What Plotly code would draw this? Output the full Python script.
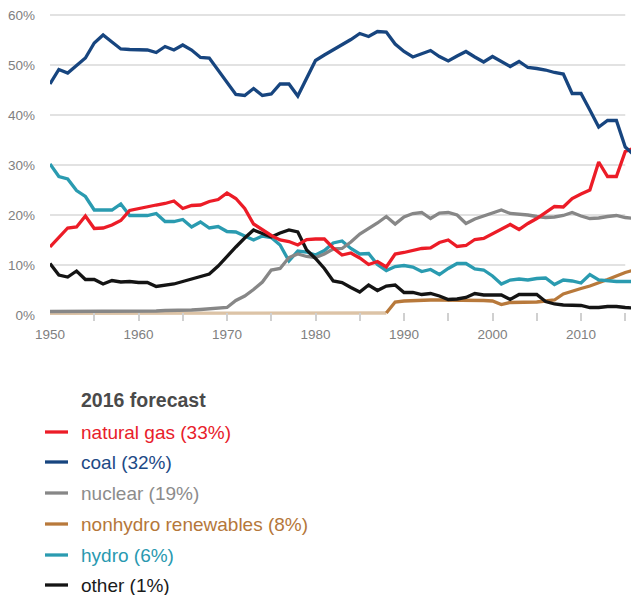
import plotly.graph_objects as go

# ---------------- data ----------------
years = list(range(1950, 2017))

natural_gas = [13.6, 15.6, 17.4, 17.6, 19.8, 17.3, 17.4, 18.0, 18.9, 20.9,
               21.3, 21.6, 22.0, 22.3, 22.8, 21.3, 21.9, 22.0, 22.7, 23.1,
               24.4, 23.3, 21.3, 18.2, 17.0, 15.9, 15.0, 14.7, 14.0, 15.1,
               15.2, 15.2, 13.4, 12.0, 12.4, 11.4, 10.1, 10.7, 9.6, 12.2,
               12.5, 12.9, 13.3, 13.4, 14.5, 15.0, 13.7, 13.9, 15.1, 15.3,
               16.2, 17.2, 18.1, 17.1, 18.3, 19.3, 20.6, 21.7, 21.6, 23.3,
               24.2, 25.0, 30.6, 27.7, 27.7, 32.7, 33.4]

coal = [46.2, 49.1, 48.4, 49.8, 51.4, 54.4, 56.0, 54.6, 53.2, 53.1,
        53.1, 53.0, 52.5, 53.7, 53.0, 54.0, 53.0, 51.5, 51.4, 49.0,
        46.5, 44.1, 43.9, 45.3, 43.9, 44.2, 46.2, 46.2, 43.8, 47.3,
        50.9, 52.0, 53.0, 54.0, 55.1, 56.3, 55.7, 56.7, 56.6, 54.2,
        52.7, 51.6, 52.2, 52.9, 51.7, 50.8, 51.8, 52.7, 51.6, 50.6,
        51.7, 50.7, 49.7, 50.7, 49.5, 49.3, 49.0, 48.5, 48.2, 44.3,
        44.3, 41.0, 37.6, 38.9, 38.9, 33.6, 32.0]

nuclear = [0.7, 0.7, 0.7, 0.7, 0.7, 0.7, 0.7, 0.7, 0.7, 0.7,
           0.7, 0.8, 0.8, 0.9, 0.9, 1.0, 1.0, 1.1, 1.2, 1.3,
           1.5, 2.9, 3.8, 5.1, 6.6, 9.0, 9.3, 11.5, 12.2, 11.7,
           11.5, 12.2, 13.2, 13.3, 14.6, 16.2, 17.3, 18.4, 19.7, 18.2,
           19.6, 20.3, 20.5, 19.3, 20.4, 20.5, 20.0, 18.3, 19.2, 19.8,
           20.3, 21.0, 20.3, 20.2, 20.0, 19.7, 19.5, 19.6, 19.9, 20.5,
           19.8, 19.3, 19.4, 19.7, 19.9, 19.5, 19.3]

renewables = [0.35] * 38 + [0.4, 2.6,
              2.8, 2.9, 2.9, 3.0, 3.0, 3.0, 3.0, 3.0, 2.9, 2.9,
              2.8, 2.1, 2.5, 2.5, 2.5, 2.6, 2.8, 3.0, 4.2, 4.8,
              5.3, 5.8, 6.4, 7.1, 7.8, 8.5, 9.0]

hydro = [30.2, 27.7, 27.2, 24.9, 23.7, 21.0, 21.0, 21.0, 22.2, 19.9,
         19.9, 19.9, 20.3, 18.7, 18.7, 19.1, 17.6, 18.6, 17.4, 17.7,
         16.7, 16.6, 15.8, 15.0, 15.8, 15.5, 14.0, 10.8, 12.8, 12.6,
         12.0, 12.9, 14.4, 14.8, 13.3, 12.2, 12.3, 10.1, 8.9, 9.7,
         9.9, 9.6, 8.7, 9.1, 8.1, 9.3, 10.3, 10.3, 9.2, 9.0,
         7.8, 6.2, 7.0, 7.2, 7.0, 7.3, 7.4, 6.1, 7.0, 6.8,
         6.4, 8.1, 7.0, 6.8, 6.7, 6.7, 6.7]

other = [10.3, 8.0, 7.6, 8.8, 7.1, 7.1, 6.2, 6.9, 6.6, 6.7,
         6.5, 6.5, 5.7, 5.9, 6.2, 6.7, 7.2, 7.7, 8.2, 9.8,
         11.8, 13.6, 15.4, 17.0, 16.3, 15.6, 16.4, 17.0, 16.6, 13.0,
         11.3, 9.3, 6.8, 6.5, 5.5, 4.6, 6.0, 4.9, 5.8, 6.0,
         4.5, 4.5, 4.1, 4.3, 3.8, 3.1, 3.2, 3.5, 4.3, 4.0,
         4.0, 4.0, 3.1, 4.1, 4.1, 4.1, 2.7, 2.2, 2.0, 2.0,
         1.9, 1.5, 1.5, 1.7, 1.7, 1.5, 1.4]

y_ticks = [0, 10, 20, 30, 40, 50, 60]
y_tick_labels = ["0%", "10%", "20%", "30%", "40%", "50%", "60%"]
x_ticks = [1950, 1960, 1970, 1980, 1990, 2000, 2010]
x_tick_labels = ["1950", "1960", "1970", "1980", "1990", "2000", "2010"]

legend_title = "2016 forecast"
legend_labels = ["natural gas (33%)", "coal (32%)", "nuclear (19%)",
                 "nonhydro renewables (8%)", "hydro (6%)", "other (1%)"]

# ---------------- styles ----------------
C_GAS = "#ec1c27"
C_COAL = "#17457f"
C_NUC = "#878787"
C_REN = "#b8793b"
C_REN_PALE = "#dcc3a6"
C_HYD = "#2a9bb0"
C_OTH = "#141414"
LW = 3.3

W, H = 631, 595
M_L, M_R, M_T, M_B = 50, 0, 5, 274
PLOT_W = W - M_L - M_R
PLOT_H = H - M_T - M_B

fig = go.Figure()

split = years.index(1988)

def add_line(x, y, color):
    fig.add_trace(go.Scatter(x=x, y=y, mode="lines",
                             line=dict(color=color, width=LW),
                             hoverinfo="skip", showlegend=False))

add_line(years[:split + 1], renewables[:split + 1], C_REN_PALE)
add_line(years[split:], renewables[split:], C_REN)
add_line(years, hydro, C_HYD)
add_line(years, nuclear, C_NUC)
add_line(years, other, C_OTH)
add_line(years, natural_gas, C_GAS)
add_line(years, coal, C_COAL)

# horizontal gridlines (stop at 2015 as in the reference)
for v in y_ticks[1:]:
    fig.add_shape(type="line", xref="x", yref="y", x0=1950, x1=2015,
                  y0=v, y1=v, line=dict(color="#d8d8d8", width=1.3),
                  layer="below")

# legend built from annotations
def px_x(p):
    return (p - M_L) / PLOT_W

def px_y(p):
    return (H - M_B - p) / PLOT_H

fig.add_annotation(text="<b>" + legend_title + "</b>", xref="paper", yref="paper",
                   x=px_x(79), y=px_y(400), xanchor="left", yanchor="middle",
                   showarrow=False, font=dict(size=19.5, color="#4a4a4a"))
leg_colors = [C_GAS, C_COAL, C_NUC, C_REN, C_HYD, C_OTH]
leg_text_colors = ["#e8202a", "#1d4a86", "#8c8c8c", "#b5773a", "#2999b0", "#1a1a1a"]
leg_y = [432, 462, 493, 524, 555, 585]
for lab, c, tc, yy in zip(legend_labels, leg_colors, leg_text_colors, leg_y):
    fig.add_shape(type="line", xref="paper", yref="paper",
                  x0=px_x(45), x1=px_x(68), y0=px_y(yy), y1=px_y(yy),
                  line=dict(color=c, width=3.3))
    fig.add_annotation(text=lab, xref="paper", yref="paper",
                       x=px_x(79), y=px_y(yy), xanchor="left", yanchor="middle",
                       showarrow=False, font=dict(size=19, color=tc))

fig.update_layout(
    width=W, height=H,
    margin=dict(l=M_L, r=M_R, t=M_T, b=M_B, pad=0),
    paper_bgcolor="white", plot_bgcolor="white",
    font=dict(family="Liberation Sans, Arial, sans-serif"),
    showlegend=False,
)
fig.update_xaxes(
    range=[1950, 2015.65], showgrid=False, zeroline=False, showline=False,
    tickmode="array", tickvals=x_ticks, ticktext=x_tick_labels,
    ticks="inside", ticklen=8, tickwidth=2, tickcolor="#d0d0d0",
    minor=dict(tickmode="linear", tick0=1950, dtick=5, ticks="inside",
               ticklen=8, tickwidth=2, tickcolor="#d0d0d0"),
    tickfont=dict(size=13.5, color="#808080"),
    ticklabelstandoff=3,
    fixedrange=True,
)
fig.update_yaxes(
    range=[-1.2, 62], showgrid=False, zeroline=False, showline=False,
    tickmode="array", tickvals=y_ticks, ticktext=y_tick_labels,
    ticks="", tickfont=dict(size=13.5, color="#808080"),
    ticklabelstandoff=14, fixedrange=True,
)

fig.write_html("out.html", config={"responsive": False, "displayModeBar": False},
               post_script="document.body.style.margin='0px';"
                           "document.body.style.overflow='hidden';")
